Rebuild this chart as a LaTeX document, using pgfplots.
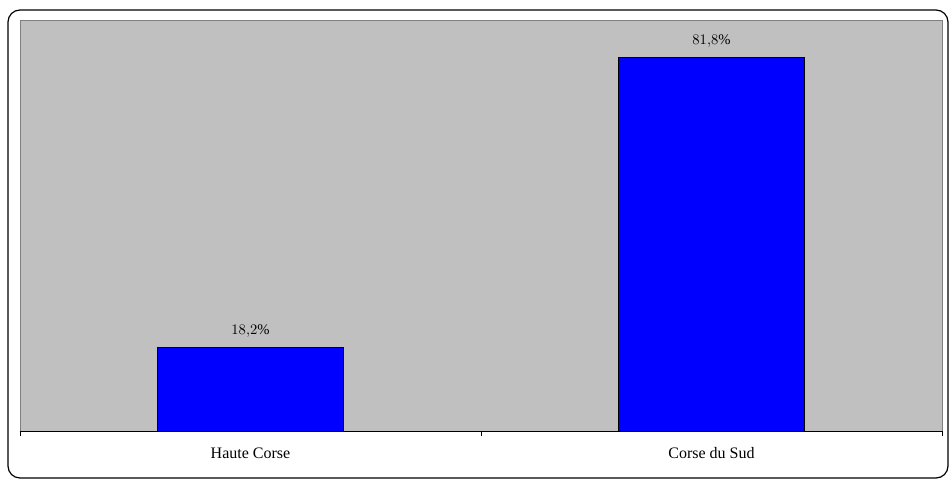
\documentclass[border=0pt]{standalone}
\usepackage{pgfplots}
\pgfplotsset{compat=1.18}
\usepackage{fontspec}
\setmainfont{Liberation Serif}
\definecolor{plotgray}{HTML}{C0C0C0}
\definecolor{framegray}{HTML}{808080}
\definecolor{barblue}{HTML}{0000FF}
\begin{document}
\begin{tikzpicture}
% overall canvas
\path[use as bounding box] (0,0) rectangle (712.5pt,360.75pt);
% rounded chart frame
\draw[black, line width=0.9pt, rounded corners=9pt] (6pt,2.25pt) rectangle (711pt,353.25pt);
\begin{axis}[
  at={(15pt,37.5pt)}, anchor=south west,
  scale only axis,
  width=691.5pt, height=308.25pt,
  ybar, bar width=0.403,
  xmin=-0.5, xmax=1.5, ymin=0, ymax=90,
  axis background/.style={fill=plotgray, draw=framegray, line width=0.6pt},
  axis x line*=bottom, axis y line=none,
  x axis line style={black, line width=0.6pt, -},
  xtick={0,1},
  xticklabels={Haute Corse, Corse du Sud},
  major tick length=0pt,
  minor xtick={-0.5,0.5,1.5},
  minor tick length=4pt,
  tick align=outside,
  minor x tick style={black, line width=0.6pt},
  xticklabel style={font=\fontsize{12}{14}\selectfont, yshift=-9pt},
  ytick=\empty,
  nodes near coords={\pgfmathprintnumber[fixed, fixed zerofill, precision=1, use comma]{\pgfplotspointmeta}\%},
  every node near coord/.append style={font=\fontsize{11}{13}\selectfont, yshift=4pt},
  clip=false,
]
\addplot[fill=barblue, draw=black, line width=0.6pt] coordinates {(0,18.2) (1,81.8)};
\end{axis}
\end{tikzpicture}
\end{document}
